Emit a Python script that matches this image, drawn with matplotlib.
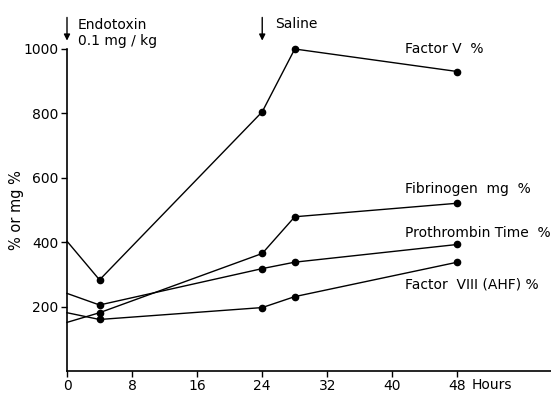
import matplotlib
matplotlib.use("Agg")
import matplotlib.pyplot as plt

hours = [0, 4, 24, 28, 48]
factor_v = [403, 283, 805, 1000, 930]
fibrinogen = [151, 181, 365, 479, 521]
prothrombin = [241, 205, 318, 338, 393]
factor_viii = [181, 160, 197, 231, 338]

series = [
    (factor_v, "Factor V  %", 1000),
    (fibrinogen, "Fibrinogen  mg  %", 565),
    (prothrombin, "Prothrombin Time  %", 430),
    (factor_viii, "Factor  VIII (AHF) %", 268),
]

xticks = [0, 8, 16, 24, 32, 40, 48]
yticks = [200, 400, 600, 800, 1000]

plt.rcParams['font.family'] = ['DejaVu Sans']
fig = plt.figure(figsize=(5.51, 3.93), dpi=100)
ax = fig.add_axes([67/551, 1-371/393, 1-67/551, (371-49)/393])

for vals, label, ly in series:
    ax.plot(hours[1:], vals[1:], color='black', lw=1.0, marker='o', ms=4.5, clip_on=False)
    ax.plot(hours[:2], vals[:2], color='black', lw=1.0, clip_on=False)
    ax.text(41.5, ly, label, fontsize=10, va='center', ha='left', clip_on=False)

ax.set_xlim(0, 59.5)
ax.set_ylim(0, 1000)
ax.set_xticks(xticks)
ax.set_xticklabels([str(t) for t in xticks])
ax.set_yticks(yticks)
ax.tick_params(direction='out', length=4, width=1, labelsize=10, color='black')
ax.tick_params(axis='x', pad=2)
ax.tick_params(axis='y', pad=2)
for s in ['top', 'right']:
    ax.spines[s].set_visible(False)
for s in ['left', 'bottom']:
    ax.spines[s].set_linewidth(1.2)

ax.set_ylabel("% or mg %", fontsize=10.5)
ax.yaxis.set_label_coords(-0.088, 0.5)
ax.annotate("Hours", xy=(48, 0), xytext=(10, -5), textcoords='offset points',
            fontsize=10, va='top', ha='left', annotation_clip=False)

# arrows
for xa in [0, 24]:
    ax.annotate("", xy=(xa, 1026), xytext=(xa, 1098),
                arrowprops=dict(arrowstyle='-|>', color='black', lw=1, mutation_scale=9,
                                shrinkA=0, shrinkB=0),
                annotation_clip=False)
ax.text(1.3, 1050, "Endotoxin\n0.1 mg / kg", fontsize=10, va='center', ha='left',
        linespacing=1.2, clip_on=False)
ax.text(25.6, 1078, "Saline", fontsize=10, va='center', ha='left', clip_on=False)

fig.savefig("out.png", dpi=100)
